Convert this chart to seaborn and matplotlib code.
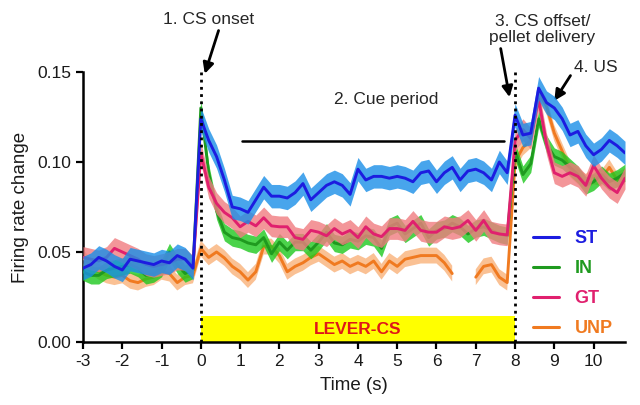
import numpy as np
import pandas as pd
import matplotlib
matplotlib.use("Agg")
import matplotlib.pyplot as plt
import seaborn as sns
from matplotlib.lines import Line2D
from matplotlib.patches import Rectangle

# ---- data (0.2 s bins from -3 to 10.8 s) ----
time_s = np.round(np.arange(-3.0, 10.81, 0.2), 1)

st = [0.041, 0.043, 0.047, 0.045, 0.042, 0.040, 0.046, 0.045, 0.044, 0.043, 0.045, 0.044, 0.048, 0.046, 0.041,
      0.124, 0.112, 0.103, 0.090, 0.075, 0.074, 0.072, 0.079, 0.086, 0.081, 0.081, 0.080, 0.083, 0.088, 0.079, 0.083,
      0.087, 0.089, 0.087, 0.082, 0.096, 0.090, 0.092, 0.092, 0.091, 0.092, 0.091, 0.089, 0.094, 0.095, 0.089,
      0.094, 0.097, 0.090, 0.095, 0.096, 0.094, 0.090, 0.100, 0.094,
      0.126, 0.115, 0.116, 0.141, 0.133, 0.130, 0.124, 0.115, 0.117, 0.109, 0.104, 0.107, 0.112, 0.109, 0.105]

gt = [0.047, 0.046, 0.045, 0.047, 0.052, 0.050, 0.048, 0.046, 0.043, 0.042, 0.043, 0.044, 0.046, 0.046, 0.042,
      0.105, 0.086, 0.077, 0.072, 0.069, 0.064, 0.067, 0.0645, 0.069, 0.0645, 0.064, 0.064, 0.058, 0.057, 0.062, 0.061,
      0.059, 0.063, 0.060, 0.062, 0.058, 0.064, 0.060, 0.0585, 0.063, 0.063, 0.062, 0.067, 0.062, 0.061, 0.061,
      0.064, 0.063, 0.064, 0.0675, 0.062, 0.0675, 0.061, 0.060, 0.0595,
      0.112, 0.118, 0.113, 0.135, 0.110, 0.094, 0.092, 0.094, 0.092, 0.087, 0.098, 0.091, 0.086, 0.083, 0.091]

in_ = [0.039, 0.037, 0.037, 0.040, 0.041, 0.042, 0.043, 0.041, 0.037, 0.038, 0.041, 0.050, 0.043, 0.038, 0.040,
       0.130, 0.094, 0.073, 0.061, 0.058, 0.057, 0.055, 0.054, 0.058, 0.049, 0.0555, 0.051, 0.0555, 0.0555, 0.051, 0.0555,
       0.061, 0.055, 0.054, 0.057, 0.056, 0.059, 0.058, 0.052, 0.064, 0.066, 0.060, 0.063, 0.066, 0.058, 0.062,
       0.063, 0.066, 0.064, 0.060, 0.063, 0.064, 0.062, 0.060, 0.059,
       0.106, 0.093, 0.099, 0.124, 0.110, 0.103, 0.101, 0.097, 0.093, 0.087, 0.089, 0.093, 0.089, 0.091, 0.094]

unp = [0.047, 0.042, 0.039, 0.037, 0.036, 0.037, 0.034, 0.033, 0.035, 0.036, 0.039, 0.038, 0.033, 0.036, 0.037,
       0.052, 0.047, 0.050, 0.0467, 0.042, 0.039, 0.0344, 0.039, 0.053, 0.053, 0.048, 0.039, 0.042, 0.044, 0.047, 0.049,
       0.046, 0.043, 0.045, 0.042, 0.044, 0.042, 0.045, 0.039, 0.045, 0.042, 0.046, 0.047, 0.048, 0.048, 0.048,
       0.044, 0.038, np.nan, np.nan, 0.036, 0.042, 0.043, 0.036, 0.033,
       0.100, 0.108, 0.112, 0.138, 0.131, 0.116, 0.106, 0.096, 0.092, 0.089, 0.092, 0.091, 0.097, 0.090, 0.092]

groups = ["UNP", "IN", "GT", "ST"]          # drawing order (bottom -> top)
values = {"ST": st, "IN": in_, "GT": gt, "UNP": unp}
sem = {"ST": 0.0065, "IN": 0.0048, "GT": 0.006, "UNP": 0.0044}
line_col = {"ST": "#1c1ce0", "IN": "#1f9a1f", "GT": "#e0206e", "UNP": "#f07a20"}
band_col = {"ST": "#1a8fe8", "IN": "#1ec81e", "GT": "#f07c80", "UNP": "#f9b27a"}
legend_order = ["ST", "IN", "GT", "UNP"]

# ---- figure ----
sns.set_theme(style="ticks")
plt.rcParams["font.family"] = ["Liberation Sans", "DejaVu Sans"]
plt.rcParams["axes.unicode_minus"] = False

fig = plt.figure(figsize=(6.4, 4.05), dpi=100)
ax = fig.add_axes([0.1297, 0.1556, 0.8469, 0.6667])

for k, g in enumerate(groups):
    y = np.array(values[g], dtype=float)
    seg = np.cumsum(np.isnan(y))
    df = pd.DataFrame({"time": time_s, "rate": y, "seg": seg}).dropna()
    ax.fill_between(time_s, y - sem[g], y + sem[g], color=band_col[g],
                    alpha=0.8, lw=0, zorder=2 + 2 * k)
    n0 = len(ax.lines)
    sns.lineplot(data=df, x="time", y="rate", units="seg", estimator=None,
                 color=line_col[g], linewidth=2.1, ax=ax, legend=False, sort=False)
    for ln in ax.lines[n0:]:
        ln.set_zorder(3 + 2 * k)

# yellow CS bar
ax.add_patch(Rectangle((0, 0), 8, 0.0145, color="#ffff00", lw=0, zorder=1))
ax.text(4.0, 0.0072, "LEVER-CS", color="#e01818", fontsize=12.5, fontweight="bold",
        ha="center", va="center", zorder=20)

# dotted event lines
for xv in (0, 8):
    ax.plot([xv, xv], [0, 0.151], ls=(0, (1, 1.6)), lw=2, color="black", zorder=30,
            clip_on=False)

# cue period bar
ax.plot([1.05, 7.72], [0.1115, 0.1115], color="black", lw=1.8, zorder=30)
ax.text(4.72, 0.1345, "2. Cue period", fontsize=12.5, ha="center", va="center")

arrow = dict(arrowstyle="-|>", color="black", lw=2, mutation_scale=16, shrinkA=0, shrinkB=0)
ax.annotate("1. CS onset", xy=(0.1, 0.149), xytext=(0.2, 0.179), fontsize=12.5,
            ha="center", va="center", annotation_clip=False,
            arrowprops=dict(arrow, relpos=(0.62, 0.0)))
ax.annotate("3. CS offset/\npellet delivery", xy=(7.86, 0.136), xytext=(8.7, 0.1735),
            fontsize=12.5, ha="center", va="center", annotation_clip=False,
            linespacing=1.1, arrowprops=dict(arrow, relpos=(0.1, 0.0)))
ax.annotate("4. US", xy=(9.0, 0.134), xytext=(10.05, 0.1525), fontsize=12.5,
            ha="center", va="center", annotation_clip=False,
            arrowprops=dict(arrow, relpos=(0.0, 0.3)))

# axes styling
ax.set_xlim(-3, 10.8)
ax.set_ylim(0, 0.15)
ax.set_xticks(range(-3, 11))
ax.set_yticks([0.0, 0.05, 0.10, 0.15])
ax.yaxis.set_major_formatter(matplotlib.ticker.FormatStrFormatter("%.2f"))
ax.tick_params(axis="both", labelsize=12.5, width=1.6, length=5, color="black",
               labelcolor="#1a1a1a", direction="out")
for s in ("left", "bottom"):
    ax.spines[s].set_linewidth(1.8)
    ax.spines[s].set_color("black")
sns.despine(ax=ax)
ax.set_xlabel("Time (s)", fontsize=13.5, color="#1a1a1a", labelpad=6)
ax.set_ylabel("Firing rate change", fontsize=13.5, color="#1a1a1a", labelpad=6)
ax.set_facecolor("white")

handles = [Line2D([0], [0], color=line_col[g], lw=2.2) for g in legend_order]
leg = ax.legend(handles, legend_order, loc="upper left", bbox_to_anchor=(0.80, 0.475),
                frameon=False, handlelength=1.45, handletextpad=0.85, labelspacing=0.72,
                prop={"size": 13, "weight": "bold"})
for txt, g in zip(leg.get_texts(), legend_order):
    txt.set_color(line_col[g])
leg.set_zorder(40)

fig.savefig("out.png", dpi=100, facecolor="white")
